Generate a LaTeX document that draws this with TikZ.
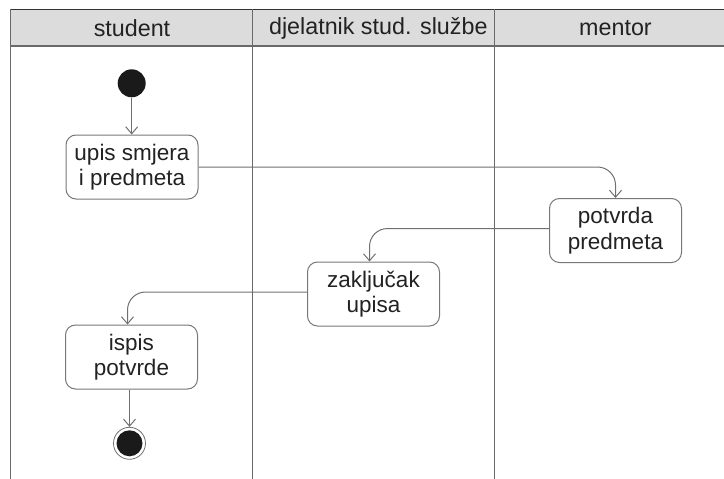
\documentclass[tikz,border=0pt]{standalone}
\usepackage{fontspec}
\setmainfont{Liberation Sans}
\usetikzlibrary{arrows.meta}
\definecolor{hdrfill}{HTML}{DCDCDC}
\definecolor{topline}{HTML}{333333}
\definecolor{lanegray}{HTML}{6A6A6A}
\definecolor{boxgray}{HTML}{777777}
\definecolor{arrgray}{HTML}{707070}
\definecolor{txt}{HTML}{222222}
\definecolor{dot}{HTML}{1A1A1A}
\begin{document}
\begin{tikzpicture}[x=1pt,y=-1pt,
  act/.style={draw=boxgray, line width=1pt, rounded corners=10pt,
    minimum width=132pt, minimum height=64pt, align=center, inner sep=0pt,
    font=\fontsize{22.5}{25.5}\selectfont, text=txt},
  flow/.style={draw=arrgray, line width=1pt, -{Straight Barb[length=7pt,width=12pt]}},
  lane/.style={draw=lanegray, line width=1.5pt},
  hdr/.style={font=\fontsize{23.3}{25}\selectfont, text=txt, inner sep=0pt}]
\useasboundingbox (0,0) rectangle (724,479);
% header band
\fill[hdrfill] (10.5,9.3) rectangle (724,46);
\draw[topline, line width=1.5pt] (10.5,9.3) -- (724,9.3);
\draw[lane] (10.5,46) -- (724,46);
% lane lines
\draw[lane] (10.5,9.3) -- (10.5,479);
\draw[lane] (252.4,9.3) -- (252.4,479);
\draw[lane] (494.3,9.3) -- (494.3,479);
% headers
\node[hdr] (h1) at (132,28) {student};
\node[hdr] (h2) at (378.3,28) {djelatnik stud. službe};
\node[hdr] (h3) at (615.5,28) {mentor};
% nodes
\node[circle, fill=dot, minimum size=28pt, inner sep=0pt] (start) at (131.7,83.3) {};
\node[act] (upis) at (132,167) {upis smjera\\i predmeta};
\node[act] (potvrda) at (615.5,230.5) {potvrda\\predmeta};
\node[act] (zak) at (373.5,294) {zaključak\\upisa};
\node[act] (ispis) at (131.5,357) {ispis\\potvrde};
\node[circle, draw=arrgray, line width=0.8pt, minimum size=32pt, inner sep=0pt] (end) at (129.5,443.3) {};
\fill[dot] (end.center) circle (13pt);
% connectors
\draw[flow] (start) -- (upis.north -| start);
\draw[flow, rounded corners=18pt] (upis.east) -| (potvrda.north);
\draw[flow, rounded corners=18pt] ([yshift=2pt]potvrda.west) -| ([xshift=-4pt]zak.north);
\draw[flow, rounded corners=18pt] ([yshift=2pt]zak.west) -| ([xshift=-4pt]ispis.north);
\draw[flow] (ispis.south -| end) -- (end);
\end{tikzpicture}
\end{document}
